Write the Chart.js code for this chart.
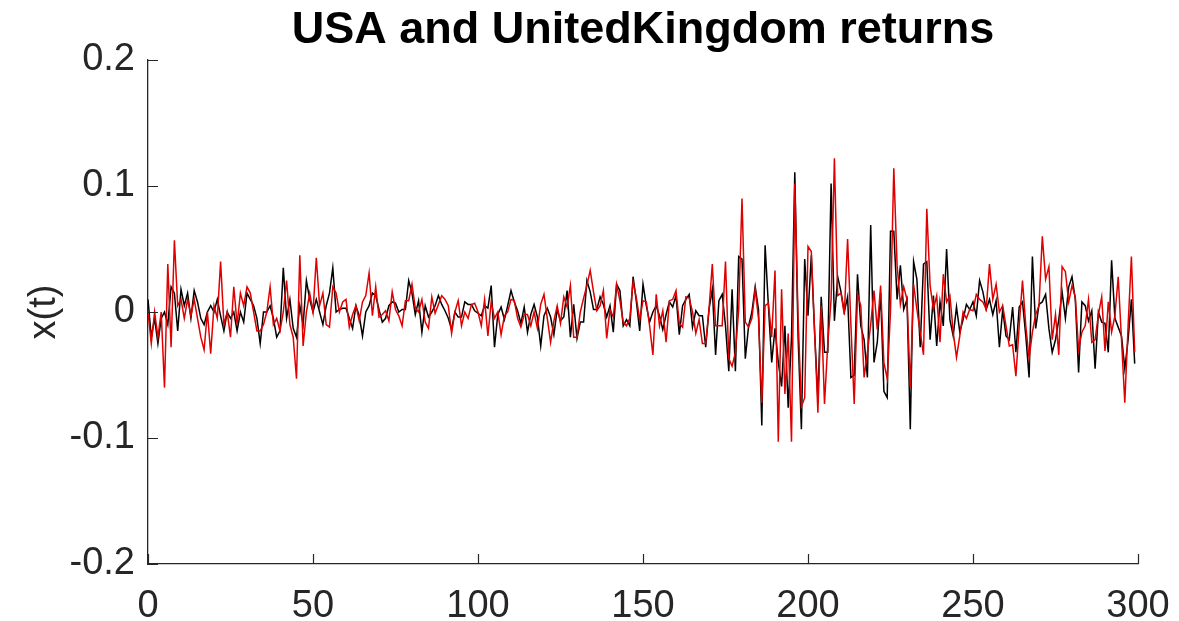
<!DOCTYPE html>
<html>
<head>
<meta charset="utf-8">
<title>USA and UnitedKingdom returns</title>
<script src="https://cdn.jsdelivr.net/npm/chart.js@4.4.1/dist/chart.umd.min.js"></script>
<style>
  html, body { margin: 0; padding: 0; background: #ffffff; }
  #wrap { width: 1179px; height: 621px; }
</style>
</head>
<body>
<div id="wrap"><canvas id="retornos" width="1179" height="621"></canvas></div>
<script>
// Retornos mensais (t = 0..299)
const usaReturns = [
  0.01, -0.02, -0.005, -0.025, -0.005, 0.0, -0.01, 0.02, 0.015, -0.015,
  0.018, 0.005, 0.015, -0.005, 0.017, 0.008, -0.005, -0.01, 0.0, 0.005,
  0.0, 0.01, -0.003, -0.015, 0.0, -0.005, 0.0, -0.015, 0.0,
  -0.008, 0.015, 0.01, 0.005, -0.005, -0.025, 0.0, 0.0, 0.005, -0.005, -0.02,
  -0.015, 0.035, -0.005, 0.01, -0.013, -0.02, 0.005, -0.01, 0.025, 0.01,
  0.0, 0.01, 0.0, -0.01, 0.005, 0.015, 0.035, 0.0, 0.002, 0.003,
  0.003, -0.005, -0.013, 0.005, -0.003, -0.019, 0.0, 0.005, 0.015, 0.013,
  0.002, -0.008, -0.005, 0.005, 0.008, 0.007, 0.0, 0.002, 0.002, 0.025,
  0.015, -0.002, 0.009, -0.016, 0.005, -0.004, 0.0, 0.005, 0.013, 0.006, 0.001,
  -0.005, -0.014, 0.0, -0.004, -0.004, 0.008, 0.006, 0.006, 0.001, -0.001,
  -0.003, 0.005, 0.003, 0.021, -0.028, -0.002, 0.004, -0.006, 0.005, 0.017,
  0.008, 0.001, -0.009, 0.004, -0.016, -0.002, 0.006, -0.004, -0.027, -0.003,
  0.003, -0.004, -0.018, 0.002, -0.007, -0.004, 0.017, -0.02, 0.006, -0.021,
  -0.008, -0.008, 0.025, 0.016, 0.002, 0.002, 0.012, 0.006, -0.004, 0.005,
  -0.016, 0.022, 0.017, -0.011, -0.006, -0.011, 0.028, 0.008, -0.015, 0.022,
  0.005, -0.008, 0.0, 0.005, -0.003, -0.014, -0.002, 0.008, 0.004, 0.013,
  -0.018, 0.005, 0.01, 0.014, -0.012, 0.001, -0.003, -0.003, -0.028, 0.002,
  0.018, -0.034, 0.009, 0.014, -0.011, -0.047, 0.018, -0.047, 0.044, 0.042,
  -0.037, -0.011, 0.0, 0.02, 0.002, -0.09, 0.053, 0.005, -0.04, -0.013,
  -0.04, -0.059, -0.011, -0.076, -0.02, 0.111, -0.02, -0.093, 0.042, -0.003,
  0.045, -0.016, -0.069, 0.012, -0.032, -0.032, 0.102, -0.007, 0.028, 0.016, 0.0,
  0.012, -0.052, -0.05, 0.03, -0.011, -0.022, -0.052, 0.069, -0.04, -0.024, 0.015,
  -0.063, -0.068, 0.064, 0.064, 0.01, 0.037, 0.002, 0.01, -0.093, 0.04,
  0.026, -0.028, 0.038, 0.04, -0.022, 0.013, -0.027, 0.008, -0.011, 0.05,
  -0.006, -0.019, 0.004, -0.016, -0.006, 0.006, 0.002, 0.008, -0.003, 0.025,
  0.016, 0.002, 0.01, -0.002, 0.009, -0.028, 0.002, -0.019, -0.022, 0.004,
  -0.032, 0.004, 0.008, -0.019, -0.052, 0.044, -0.013, 0.006, 0.008, 0.014,
  -0.013, -0.032, -0.022, -0.006, 0.016, -0.005, 0.02, 0.028, 0.01, -0.048,
  0.008, 0.005, -0.007, 0.001, -0.045, 0.0, -0.008, -0.009, -0.032, 0.041,
  -0.005, -0.012, -0.019, -0.045, -0.022, 0.01, -0.041
];

const ukReturns = [
  0.0, -0.025, 0.0, -0.02, 0.0, -0.06, 0.038, -0.028, 0.057, 0.005,
  0.01, -0.005, 0.01, -0.003, 0.01, -0.005, -0.02, -0.03, 0.0, -0.033,
  0.005, -0.005, 0.04, -0.01, 0.0, -0.02, 0.02, -0.01, 0.015,
  0.005, 0.02, 0.015, 0.0, -0.015, -0.015, -0.01, 0.0, 0.02, -0.01, -0.005,
  -0.015, 0.0, 0.025, -0.01, -0.02, -0.053, 0.045, -0.027, 0.0, 0.015,
  0.0, 0.043, 0.005, 0.015, -0.01, -0.012, 0.02, 0.015, 0.0, 0.008,
  0.01, -0.012, -0.002, 0.005, -0.007, 0.008, 0.013, 0.031, -0.003, 0.02,
  -0.004, -0.002, 0.001, -0.007, 0.016, 0.002, -0.003, -0.011, 0.009, 0.009,
  0.022, 0.003, 0.0, 0.01, -0.008, -0.013, 0.012, -0.001, 0.006, 0.013, 0.01,
  0.005, -0.017, 0.0, 0.009, -0.011, 0.0, -0.005, 0.006, 0.007, 0.0,
  -0.011, 0.01, -0.019, 0.008, -0.005, 0.0, -0.018, -0.003, 0.0, 0.01,
  0.009, -0.005, -0.012, -0.002, -0.002, -0.011, 0.0, -0.013, 0.006, 0.014,
  -0.005, -0.024, -0.007, 0.005, -0.009, 0.012, 0.004, 0.021, -0.02, -0.02,
  0.0, 0.011, 0.021, 0.033, 0.016, 0.001, 0.005, 0.017, -0.021, 0.002,
  -0.004, 0.022, 0.009, -0.008, -0.011, -0.005, 0.024, 0.011, -0.006, 0.009,
  0.008, -0.011, -0.034, 0.014, -0.011, 0.001, -0.024, 0.009, 0.01, 0.017,
  -0.009, -0.012, 0.012, 0.011, 0.0, -0.017, -0.006, -0.025, -0.025, 0.002,
  0.038, -0.011, -0.011, -0.011, 0.04, -0.037, -0.043, -0.032, 0.002, 0.09,
  -0.008, -0.012, -0.005, 0.018, -0.005, -0.072, 0.005, 0.007, -0.02, 0.033,
  -0.103, 0.018, -0.065, -0.017, -0.103, 0.102, -0.005, -0.075, -0.068, 0.052,
  0.048, -0.015, -0.08, 0.005, -0.073, -0.025, 0.01, 0.122, 0.013, 0.015, -0.002,
  0.058, -0.01, -0.073, 0.014, 0.005, -0.052, -0.032, -0.01, 0.017, -0.014, 0.021,
  -0.04, -0.053, 0.0, 0.114, 0.037, 0.006, 0.02, 0.01, -0.06, 0.022,
  0.002, -0.016, -0.034, 0.082, 0.021, 0.002, 0.013, -0.024, 0.03, 0.008,
  0.013, -0.016, -0.036, -0.019, 0.0, -0.005, 0.002, 0.001, 0.014, 0.01,
  0.008, 0.002, 0.038, 0.01, 0.022, 0.0, 0.005, -0.011, -0.027, -0.026,
  -0.051, -0.011, 0.025, -0.011, -0.037, -0.016, -0.002, 0.005, 0.06, 0.026,
  0.036, -0.022, -0.002, -0.034, 0.036, 0.032, 0.008, 0.021, 0.012, -0.03,
  -0.016, -0.011, 0.01, -0.024, -0.022, -0.002, 0.012, -0.031, 0.008, -0.016,
  -0.003, 0.028, -0.022, -0.072, -0.011, 0.044, -0.032
];

const xTicks = [0, 50, 100, 150, 200, 250, 300];
const yTicks = [-0.2, -0.1, 0, 0.1, 0.2];

const corEixo = "#262626";
const fonte = "'Liberation Sans', Arial, Helvetica, sans-serif";

function toPoints(serie) {
  return serie.map(function(v, i) { return { x: i, y: v }; });
}

// Marcas dos eixos voltadas para dentro (estilo MATLAB)
const ticksInternos = {
  id: "ticksInternos",
  afterDraw: function(chart) {
    const ctx = chart.ctx;
    const area = chart.chartArea;
    const sx = chart.scales.x;
    const sy = chart.scales.y;
    ctx.save();
    ctx.strokeStyle = corEixo;
    ctx.lineWidth = 1.2;
    ctx.beginPath();
    sx.ticks.forEach(function(t) {
      const px = Math.round(sx.getPixelForValue(t.value)) + 0.5;
      ctx.moveTo(px, area.bottom);
      ctx.lineTo(px, area.bottom - 10);
    });
    sy.ticks.forEach(function(t) {
      const py = Math.round(sy.getPixelForValue(t.value)) + 0.5;
      ctx.moveTo(area.left, py);
      ctx.lineTo(area.left + 10, py);
    });
    ctx.stroke();
    ctx.restore();
  }
};

const ctx = document.getElementById("retornos").getContext("2d");
new Chart(ctx, {
  type: "line",
  data: {
    datasets: [
      {
        label: "UnitedKingdom",
        data: toPoints(ukReturns),
        borderColor: "#e00000",
        borderWidth: 1.5,
        pointRadius: 0,
        tension: 0,
        order: 0
      },
      {
        label: "USA",
        data: toPoints(usaReturns),
        borderColor: "#000000",
        borderWidth: 1.5,
        pointRadius: 0,
        tension: 0,
        order: 1
      }
    ]
  },
  options: {
    responsive: false,
    animation: false,
    layout: { padding: { left: 0, right: 41, top: 0, bottom: 0 } },
    plugins: {
      legend: { display: false },
      tooltip: { enabled: false },
      title: {
        display: true,
        fullSize: false,
        text: "USA and UnitedKingdom returns",
        color: "#000000",
        font: { family: fonte, size: 45, weight: "bold" },
        padding: { top: 4, bottom: 2 }
      }
    },
    scales: {
      x: {
        type: "linear",
        min: 0,
        max: 300,
        afterBuildTicks: function(scale) {
          scale.ticks = xTicks.map(function(v) { return { value: v }; });
        },
        afterFit: function(scale) {
          scale.height = 57;
          scale.paddingLeft = 0;
          scale.paddingRight = 0;
        },
        grid: { display: true, drawOnChartArea: false, drawTicks: false },
        border: { display: true, color: corEixo, width: 1.3 },
        ticks: {
          color: corEixo,
          padding: 20,
          maxRotation: 0,
          font: { family: fonte, size: 38 }
        }
      },
      y: {
        min: -0.2,
        max: 0.2,
        afterBuildTicks: function(scale) {
          scale.ticks = yTicks.map(function(v) { return { value: v }; });
        },
        afterFit: function(scale) {
          scale.width = 148;
          scale.paddingTop = 0;
          scale.paddingBottom = 0;
        },
        grid: { display: true, drawOnChartArea: false, drawTicks: false },
        border: { display: true, color: corEixo, width: 1.3 },
        ticks: {
          color: corEixo,
          padding: 13,
          font: { family: fonte, size: 38 },
          callback: function(v) { return String(Math.round(v * 10) / 10); }
        },
        title: {
          display: true,
          text: "x(t)",
          color: corEixo,
          font: { family: fonte, size: 38 },
          padding: { top: 22, bottom: 0 }
        }
      }
    }
  },
  plugins: [ticksInternos]
});
</script>
</body>
</html>
